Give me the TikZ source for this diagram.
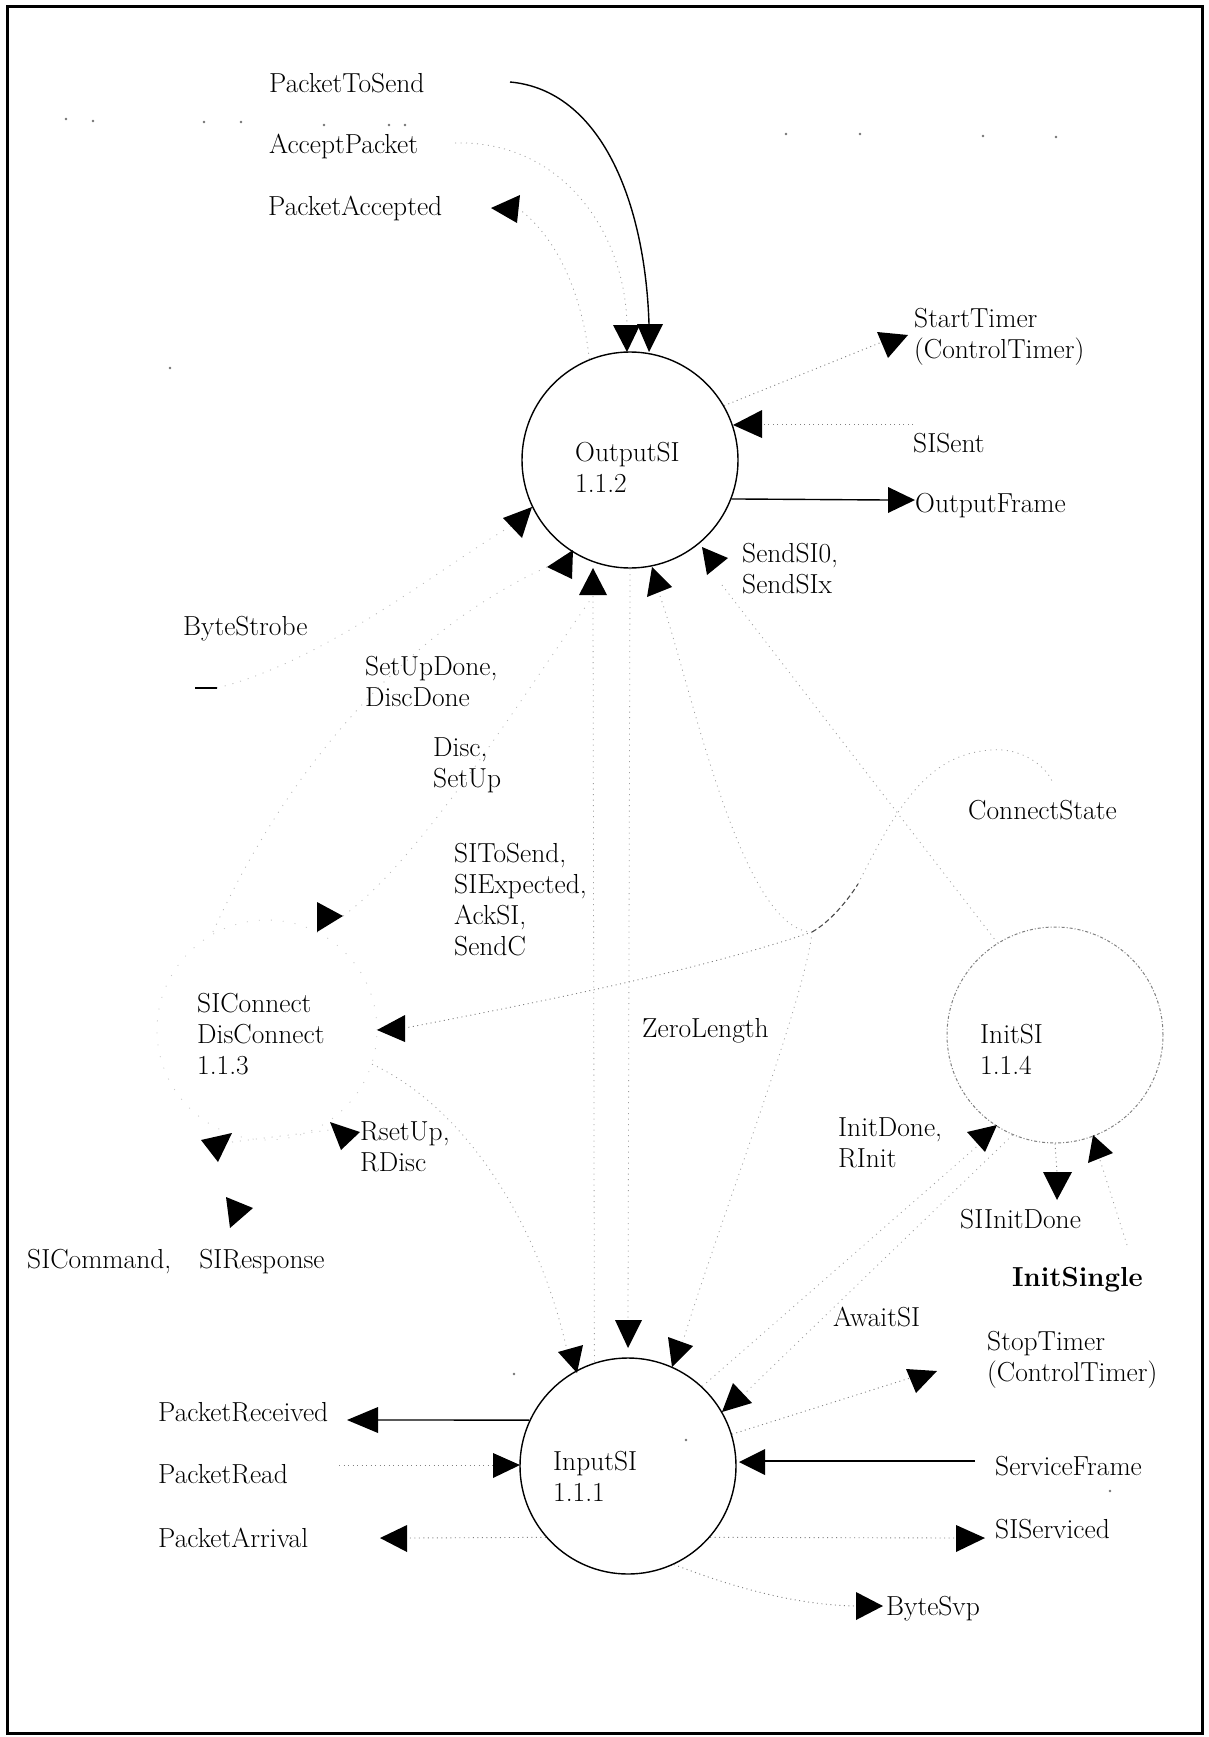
\documentclass[tikz,border=0pt]{standalone}
\newcommand\lbfont{\fontsize{27.5}{31}\selectfont}
\begin{document}
\begin{tikzpicture}[x=1pt,y=-1pt,
  lbl/.style={anchor=west, inner sep=0pt, align=left, font=\lbfont},
  proc/.style={circle, draw, line width=1.4pt, minimum size=216pt, inner sep=0pt},
  faint/.style={draw=black!50, line width=0.9pt, dash pattern=on 1pt off 3.5pt},
  pale/.style={draw=black!38, line width=0.8pt, dash pattern=on 1pt off 4.5pt},
  dimflow/.style={draw=black!28, line width=0.8pt, dash pattern=on 1pt off 7pt},
  flow/.style={draw, line width=1.4pt},
  head/.style={fill=black},
  speck/.style={fill=black!55}]
\useasboundingbox (0,0) rectangle (1209,1737);
\fill[white] (0,0) rectangle (1209,1737);
\draw[line width=3pt] (7,7) rectangle (1202,1733);

% processes
\node[proc] (out) at (630,460) {};
\node[proc] (in) at (628,1466) {};
\node[proc, draw=black!50, line width=1pt, dash pattern=on 3pt off 2pt on 1pt off 2pt] (init) at (1055,1035) {};
\node[proc, draw=black!22, line width=0.8pt, dash pattern=on 1pt off 11pt, minimum size=220pt] (disc) at (267,1030) {};

% labels
\node[lbl] (tOut) at (575,467) {OutputSI\\1.1.2};
\node[lbl] (tIn) at (553,1476) {InputSI\\1.1.1};
\node[lbl] (tInit) at (980,1049) {InitSI\\1.1.4};
\node[lbl] (tDisc) at (197,1034) {SIConnect\\DisConnect\\1.1.3};
\node[lbl] (lPts) at (269,83) {PacketToSend};
\node[lbl] (lAcc) at (269,146) {AcceptPacket};
\node[lbl] (lPac) at (268,208) {PacketAccepted};
\node[lbl] (lSt) at (914,337) {StartTimer\\(ControlTimer)};
\node[lbl] (lSs) at (913,443) {SISent};
\node[lbl] (lOf) at (915,506) {OutputFrame};
\node[lbl] (lSend) at (742,569) {SendSI0,\\SendSIx};
\node[lbl] (lBs) at (183,629) {ByteStrobe};
\node[lbl] (lSud) at (365,681) {SetUpDone,\\DiscDone};
\node[lbl] (lDs) at (433,765) {Disc,\\SetUp};
\node[lbl] (lSi) at (454,900) {SIToSend,\\SIExpected,\\AckSI,\\SendC};
\node[lbl] (lCs) at (968,810) {ConnectState};
\node[lbl] (lZl) at (642,1031) {ZeroLength};
\node[lbl] (lId) at (838,1143) {InitDone,\\RInit};
\node[lbl] (lRs) at (360,1147) {RsetUp,\\RDisc};
\node[lbl] (lSid) at (960,1219) {SIInitDone};
\node[lbl] (lSc) at (27,1262) {SICommand,\hspace{28pt}SIResponse};
\node[lbl, font=\lbfont\bfseries] (lIs) at (1012,1280) {InitSingle};
\node[lbl] (lAw) at (833,1317) {AwaitSI};
\node[lbl] (lStp) at (987,1360) {StopTimer\\(ControlTimer)};
\node[lbl] (lPr) at (158,1412) {PacketReceived};
\node[lbl] (lSf) at (995,1466) {ServiceFrame};
\node[lbl] (lPrd) at (158,1474) {PacketRead};
\node[lbl] (lSsv) at (995,1529) {SIServiced};
\node[lbl] (lPar) at (158,1538) {PacketArrival};
\node[lbl] (lBsv) at (886,1609) {ByteSvp};

% connector end points
\coordinate (ptsA) at (510,82);
\coordinate (t2) at (649,324);
\coordinate (apA) at (455,143);
\coordinate (t1) at (627,325);
\coordinate (paB) at (519,209);
\coordinate (stB) at (882,342);
\coordinate (ssB) at (762,424);
\coordinate (ssA) at (913,424);
\coordinate (ofB) at (888,500);
\coordinate (bsA) at (195,688);
\coordinate (bsB) at (217,688);
\coordinate (b1) at (518,522);
\coordinate (b2) at (547,567);
\coordinate (b3) at (593,596);
\coordinate (b4) at (660,596);
\coordinate (b5) at (722,585);
\coordinate (dc1) at (343,916);
\coordinate (dc2) at (405,1028);
\coordinate (dc3) at (232,1142);
\coordinate (dc4) at (330,1130);
\coordinate (hk) at (812,932);
\coordinate (hk2) at (858,884);
\coordinate (cs) at (1052,781);
\coordinate (a1) at (567,1350);
\coordinate (a2) at (628,1320);
\coordinate (a3) at (683,1341);
\coordinate (a4) at (742,1396);
\coordinate (id) at (982,1142);
\coordinate (sid) at (1057,1172);
\coordinate (isA) at (1127,1245);
\coordinate (isB) at (1100,1160);
\coordinate (stpB) at (910,1378);
\coordinate (prB) at (378,1420);
\coordinate (prdA) at (339,1465);
\coordinate (prdB) at (493,1465);
\coordinate (parB) at (407,1538);
\coordinate (sfA) at (975,1461);
\coordinate (sfB) at (765,1461);
\coordinate (ssvB) at (956,1538);
\coordinate (bsvB) at (856,1606);

% solid flows
\draw[flow] (ptsA) .. controls (600,90) and (645,200) .. (t2);
\draw[flow] (out.-21.7) -- (ofB);
\draw[flow] (in.155) -- (prB);
\draw[flow] (sfA) -- (sfB);
\draw[flow, line width=1.2pt] (bsA) -- (bsB);

% faint flows round OutputSI
\draw[pale] (apA) .. controls (560,140) and (625,230) .. (t1);
\draw[pale] (out.112) .. controls (583,300) and (560,240) .. (paB);
\draw[faint] (out.30) -- (stB);
\draw[faint] (ssA) -- (ssB);
\draw[dimflow] (bsB) .. controls (330,660) and (450,560) .. (b1);
\draw[dimflow] (b2) .. controls (430,620) and (300,740) .. (disc.120);
\draw[dimflow] (dc1) .. controls (420,860) and (520,700) .. (b3);
\draw[pale] (b3) -- (in.108);
\draw[pale] (out.south) -- (a2);
\draw[pale] (b4) .. controls (690,680) and (740,930) .. (hk);
\draw[black!70, line width=1.1pt, dash pattern=on 5pt off 3pt] (hk) .. controls (830,922) and (848,900) .. (hk2);
\draw[pale] (hk2) .. controls (900,800) and (930,755) .. (990,750) .. controls (1020,747) and (1045,765) .. (cs);
\draw[faint] (hk) .. controls (700,970) and (550,1000) .. (dc2);
\draw[pale] (hk) .. controls (805,1000) and (720,1220) .. (a3);
\draw[pale] (b5) -- (init.122);

% faint flows round DisConnect
\draw[dimflow] (dc3) -- (dc4);
\draw[pale] (disc.-18) .. controls (470,1110) and (540,1230) .. (a1);

% faint flows round InputSI and InitSI
\draw[pale] (in.47) -- (id);
\draw[pale] (init.-113) -- (a4);
\draw[faint] (init.south) -- (sid);
\draw[pale] (isA) -- (isB);
\draw[faint] (in.17) -- (stpB);
\draw[faint] (prdA) -- (prdB);
\draw[faint] (in.221) -- (parB);
\draw[faint] (in.-41) -- (ssvB);
\draw[faint] (in.-65) .. controls (740,1590) and (800,1605) .. (bsvB);

% arrowheads
\fill[head] (613,325) -- (640,325) -- (627,352) -- cycle;
\fill[head] (637,324) -- (663,324) -- (649,352) -- cycle;
\fill[head] (491,208) -- (520,195) -- (517,223) -- cycle;
\fill[head] (877,332) -- (908,335) -- (888,358) -- cycle;
\fill[head] (733,425) -- (762,410) -- (762,438) -- cycle;
\fill[head] (888,487) -- (888,513) -- (915,500) -- cycle;
\fill[head] (503,518) -- (532,507) -- (522,538) -- cycle;
\fill[head] (547,567) -- (573,550) -- (572,579) -- cycle;
\fill[head] (593,568) -- (579,595) -- (607,595) -- cycle;
\fill[head] (652,567) -- (647,597) -- (672,587) -- cycle;
\fill[head] (702,547) -- (707,575) -- (728,558) -- cycle;
\fill[head] (317,902) -- (317,932) -- (343,916) -- cycle;
\fill[head] (377,1030) -- (405,1015) -- (405,1042) -- cycle;
\fill[head] (201,1140) -- (232,1133) -- (218,1162) -- cycle;
\fill[head] (330,1122) -- (360,1132) -- (341,1150) -- cycle;
\fill[head] (226,1197) -- (253,1208) -- (230,1228) -- cycle;
\fill[head] (558,1352) -- (583,1345) -- (577,1373) -- cycle;
\fill[head] (615,1320) -- (642,1320) -- (628,1348) -- cycle;
\fill[head] (668,1337) -- (693,1346) -- (672,1367) -- cycle;
\fill[head] (733,1383) -- (752,1403) -- (722,1412) -- cycle;
\fill[head] (347,1420) -- (378,1407) -- (378,1433) -- cycle;
\fill[head] (493,1453) -- (493,1478) -- (520,1465) -- cycle;
\fill[head] (380,1538) -- (407,1525) -- (407,1552) -- cycle;
\fill[head] (739,1462) -- (765,1449) -- (765,1475) -- cycle;
\fill[head] (956,1525) -- (956,1552) -- (985,1538) -- cycle;
\fill[head] (856,1592) -- (856,1620) -- (883,1606) -- cycle;
\fill[head] (906,1369) -- (937,1371) -- (916,1393) -- cycle;
\fill[head] (967,1132) -- (997,1125) -- (985,1152) -- cycle;
\fill[head] (1043,1172) -- (1072,1172) -- (1057,1200) -- cycle;
\fill[head] (1093,1135) -- (1113,1153) -- (1088,1163) -- cycle;

% loose specks on the sheet
\foreach \p in {(66,119),(93,121),(204,122),(241,122),(324,125),(389,125),(405,125),
  (786,134),(860,134),(983,136),(1056,137),(170,368),(514,1374),(686,1440),(1110,1491)}
  \fill[speck] \p circle (1.4pt);
\end{tikzpicture}
\end{document}
